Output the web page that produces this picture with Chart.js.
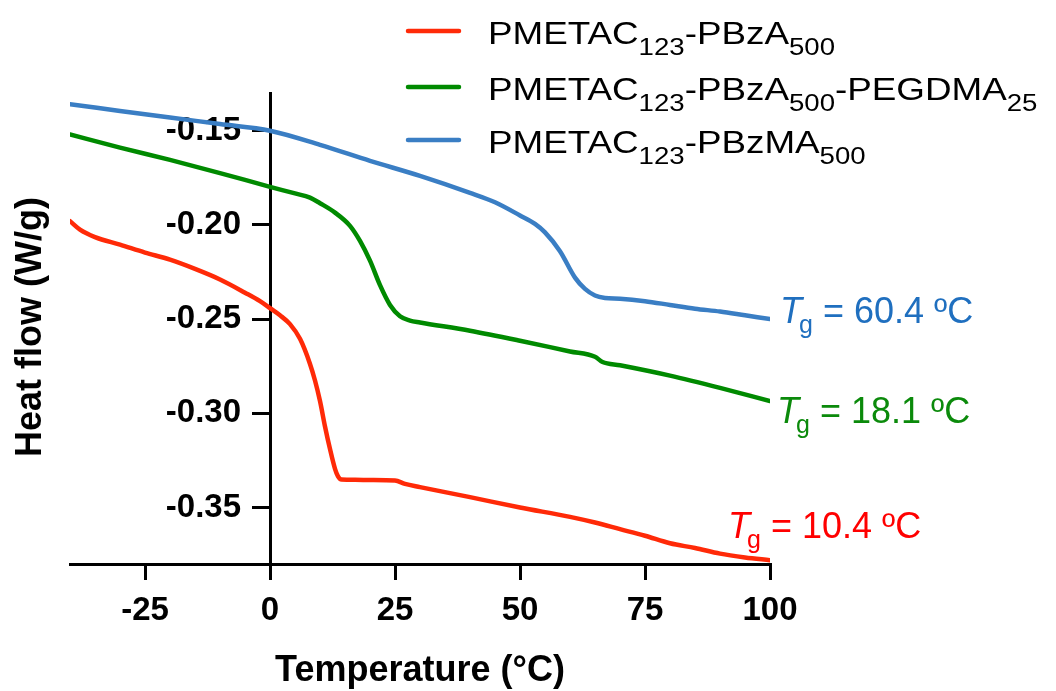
<!DOCTYPE html>
<html>
<head>
<meta charset="utf-8">
<script src="https://cdn.jsdelivr.net/npm/chart.js@4"></script>
<style>
  html, body { margin: 0; padding: 0; background: #fff; }
  #wrap { width: 1056px; height: 691px; }
</style>
</head>
<body>
<div id="wrap"><canvas id="dscChart" width="1056" height="691"></canvas></div>
<script>
// DSC traces (temperature in °C, heat flow in W/g)
const redT = [-40, -38, -35, -30, -25, -20, -15, -10, -5, -2, 0, 2, 4, 6, 8, 9, 10, 11, 12, 13, 13.6, 14.3, 17, 20, 25, 27, 30, 40, 50, 60, 65, 70, 75, 80, 85, 90, 95, 100];
const redHF = [-0.198, -0.2025, -0.2065, -0.2105, -0.2147, -0.2185, -0.2234, -0.229, -0.236, -0.2405, -0.2442, -0.248, -0.2527, -0.2605, -0.2738, -0.2826, -0.2935, -0.307, -0.319, -0.3295, -0.3335, -0.3352, -0.3353, -0.3354, -0.3357, -0.3375, -0.3392, -0.3445, -0.350, -0.355, -0.358, -0.3615, -0.365, -0.369, -0.3715, -0.3745, -0.3765, -0.378];

const greenT = [-40, -30, -20, -10, 0, 5, 8, 10, 13, 16, 18, 20, 22, 24, 26, 28, 30, 40, 50, 60, 65, 66.5, 70, 80, 90, 100];
const greenHF = [-0.152, -0.159, -0.1655, -0.1725, -0.1798, -0.1833, -0.1855, -0.1885, -0.1935, -0.2005, -0.2085, -0.219, -0.232, -0.2425, -0.2485, -0.2508, -0.2518, -0.2562, -0.2615, -0.2672, -0.2700, -0.2728, -0.2745, -0.2800, -0.2865, -0.2935];

const blueT = [-40, -30, -20, -10, 0, 10, 20, 30, 40, 45, 50, 53, 55, 58, 61, 63, 65, 67, 70, 75, 80, 85, 90, 95, 100];
const blueHF = [-0.136, -0.1395, -0.143, -0.1465, -0.150, -0.1575, -0.166, -0.174, -0.183, -0.188, -0.195, -0.1995, -0.204, -0.214, -0.228, -0.234, -0.2375, -0.2388, -0.2392, -0.2405, -0.2425, -0.2445, -0.246, -0.248, -0.250];

const xTickValues = [-25, 0, 25, 50, 75, 100];
const yTickValues = [-0.35, -0.30, -0.25, -0.20, -0.15];

const seriesLabels = ['PMETAC_{123}-PBzA_{500}', 'PMETAC_{123}-PBzA_{500}-PEGDMA_{25}', 'PMETAC_{123}-PBzMA_{500}'];
const seriesColors = ['#ff2a08', '#008a00', '#3a7ec4'];
const tgValues = [10.4, 18.1, 60.4];
const tgColors = ['#ff0000', '#0b8a0b', '#1f6fbf'];

const xTitle = 'Temperature (°C)';
const yTitle = 'Heat flow (W/g)';

function toPoints(xs, ys) {
    return xs.map((x, i) => ({ x: x, y: ys[i] }));
}

// split "ABC_{12}D" into plain / subscript pieces
function splitSub(str) {
    const parts = [];
    const re = /_\{([^}]*)\}/g;
    let last = 0, m;
    while ((m = re.exec(str)) !== null) {
        if (m.index > last) parts.push({ t: str.slice(last, m.index), sub: false });
        parts.push({ t: m[1], sub: true });
        last = re.lastIndex;
    }
    if (last < str.length) parts.push({ t: str.slice(last), sub: false });
    return parts;
}

const FAMILY = '"Liberation Sans", Arial, Helvetica, sans-serif';

const extrasPlugin = {
    id: 'extras',
    afterDraw(chart) {
        const ctx = chart.ctx;
        const xs = chart.scales.x, ys = chart.scales.y;

        // y axis title
        ctx.save();
        ctx.translate(31, 327);
        ctx.rotate(-Math.PI / 2);
        ctx.font = 'bold 36px ' + FAMILY;
        ctx.fillStyle = '#000';
        ctx.textAlign = 'center';
        ctx.textBaseline = 'middle';
        ctx.fillText(yTitle, 0, 0);
        ctx.restore();

        // legend with subscripts
        const rowY = [31, 87, 140];
        seriesLabels.forEach((lab, i) => {
            ctx.save();
            ctx.strokeStyle = seriesColors[i];
            ctx.lineWidth = 4.5;
            ctx.lineCap = 'round';
            ctx.beginPath();
            ctx.moveTo(408, rowY[i]);
            ctx.lineTo(459, rowY[i]);
            ctx.stroke();
            ctx.translate(488, rowY[i] + 13);
            ctx.scale(1.15, 1);
            ctx.fillStyle = '#000';
            ctx.textBaseline = 'alphabetic';
            let cx = 0;
            splitSub(lab).forEach(p => {
                ctx.font = (p.sub ? '24px ' : '32px ') + FAMILY;
                ctx.fillText(p.t, cx, p.sub ? 11 : 0);
                cx += ctx.measureText(p.t).width;
            });
            ctx.restore();
        });

        // Tg annotations, anchored to the end of each trace
        const anchors = [
            { x: xs.getPixelForValue(redT[redT.length - 1]) - 42, y: ys.getPixelForValue(redHF[redHF.length - 1]) - 22 },
            { x: xs.getPixelForValue(greenT[greenT.length - 1]) + 7, y: ys.getPixelForValue(greenHF[greenHF.length - 1]) + 22 },
            { x: xs.getPixelForValue(blueT[blueT.length - 1]) + 10, y: ys.getPixelForValue(blueHF[blueHF.length - 1]) + 4 }
        ];
        tgValues.forEach((v, i) => {
            const a = anchors[i];
            ctx.save();
            ctx.fillStyle = tgColors[i];
            ctx.textBaseline = 'alphabetic';
            let cx = a.x;
            ctx.font = 'italic 36px ' + FAMILY;
            ctx.fillText('T', cx, a.y);
            cx += ctx.measureText('T').width - 3;
            ctx.font = '25px ' + FAMILY;
            ctx.fillText('g', cx, a.y + 10);
            cx += ctx.measureText('g').width;
            ctx.font = '36px ' + FAMILY;
            ctx.fillText(' = ' + v.toFixed(1) + ' ºC', cx, a.y);
            ctx.restore();
        });
    }
};

const tickFont = { family: FAMILY, size: 33, weight: 'bold' };

const ctx = document.getElementById('dscChart').getContext('2d');
const chart = new Chart(ctx, {
    type: 'line',
    data: {
        datasets: [
            { label: 'PMETAC123-PBzA500', data: toPoints(redT, redHF), borderColor: seriesColors[0] },
            { label: 'PMETAC123-PBzA500-PEGDMA25', data: toPoints(greenT, greenHF), borderColor: seriesColors[1] },
            { label: 'PMETAC123-PBzMA500', data: toPoints(blueT, blueHF), borderColor: seriesColors[2] }
        ]
    },
    options: {
        responsive: false,
        animation: false,
        layout: { padding: { left: 70, right: 286, top: 93, bottom: 0 } },
        elements: {
            line: { borderWidth: 4.5, fill: false, cubicInterpolationMode: 'monotone', borderCapStyle: 'round' },
            point: { radius: 0 }
        },
        plugins: { legend: { display: false }, tooltip: { enabled: false } },
        scales: {
            x: {
                type: 'linear',
                min: -40,
                max: 100,
                afterFit: (scale) => { scale.height = 127; },
                afterBuildTicks: (scale) => { scale.ticks = xTickValues.map(v => ({ value: v })); },
                border: { display: true, color: '#000', width: 3 },
                grid: { drawOnChartArea: false, drawTicks: true, tickLength: 16, color: '#000', lineWidth: 3 },
                ticks: { color: '#000', padding: 11, maxRotation: 0, font: tickFont },
                title: {
                    display: true,
                    text: xTitle,
                    color: '#000',
                    padding: { top: 0, bottom: 2 },
                    font: { family: FAMILY, size: 36, weight: 'bold', lineHeight: 1 }
                }
            },
            // axis line and tick marks, crossing at 0 °C
            y: {
                type: 'linear',
                position: { x: 0 },
                min: -0.38,
                max: -0.13,
                afterBuildTicks: (scale) => { scale.ticks = yTickValues.map(v => ({ value: v })); },
                border: { display: true, color: '#000', width: 3 },
                grid: { drawOnChartArea: false, drawTicks: true, tickLength: 17, color: '#000', lineWidth: 3 },
                ticks: { display: false }
            },
            // tick labels of the same axis, set left of the tick marks
            yLabels: {
                type: 'linear',
                axis: 'y',
                position: { x: -5.8 },
                min: -0.38,
                max: -0.13,
                afterBuildTicks: (scale) => { scale.ticks = yTickValues.map(v => ({ value: v })); },
                border: { display: false },
                grid: { display: false },
                ticks: { color: '#000', font: tickFont, callback: (v) => v.toFixed(2) }
            }
        }
    },
    plugins: [extrasPlugin]
});
</script>
</body>
</html>
